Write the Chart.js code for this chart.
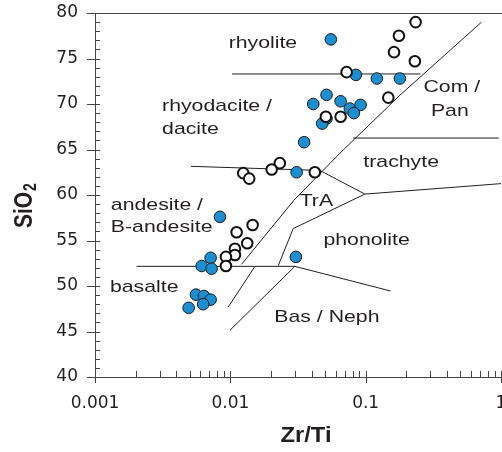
<!DOCTYPE html>
<html>
<head>
<meta charset="utf-8">
<script src="https://cdn.jsdelivr.net/npm/chart.js@4.4.1/dist/chart.umd.min.js"></script>
<style>
  html, body { margin: 0; padding: 0; background: #fff; }
</style>
</head>
<body>
<canvas id="chart" width="502" height="452"></canvas>
<script>
// samples, filled blue
const blueZrTi = [0.0553, 0.0846, 0.121, 0.179, 0.0410, 0.0514, 0.0653, 0.0764, 0.0917, 0.0818, 0.0514, 0.0477,
                  0.0351, 0.0309, 0.00838, 0.00715, 0.00614, 0.00727, 0.00557, 0.00638, 0.00715, 0.00630, 0.00492, 0.0305];
const blueSiO2 = [77.1, 73.2, 72.8, 72.8, 70.0, 71.0, 70.3, 69.5, 69.9, 69.0, 68.4, 67.85,
                  65.8, 62.5, 57.6, 53.1, 52.2, 51.9, 49.05, 48.9, 48.5, 48.0, 47.6, 53.2];
// samples, open circles
const openZrTi = [0.234, 0.176, 0.162, 0.231, 0.0723, 0.147, 0.0508, 0.0653, 0.0232, 0.0202, 0.0421, 0.01246,
                  0.01379, 0.01461, 0.01113, 0.01333, 0.01081, 0.01081, 0.00928, 0.00928];
const openSiO2 = [79.0, 77.5, 75.7, 74.7, 73.5, 70.7, 68.6, 68.6, 63.5, 62.8, 62.5, 62.4,
                  61.8, 56.7, 55.9, 54.7, 54.1, 53.4, 53.2, 52.2];

const xTicks = [0.001, 0.01, 0.1, 1];
const yTicks = [40, 45, 50, 55, 60, 65, 70, 75, 80];

// field boundaries, [Zr/Ti, SiO2]
const rhyoliteLine = [[0.0103, 73.3], [0.254, 73.3]];
const daciteLine = [[0.00512, 63.15], [0.0459, 62.7], [0.0987, 60.1], [1.0, 61.25]];
const comPanLine = [[0.718, 79.0], [0.179, 70.96], [0.0644, 64.58], [0.0295, 59.42], [0.0121, 52.38]];
const trachyteLine = [[0.0809, 66.26], [0.963, 66.26]];
const phonoliteTop = [[0.0987, 60.1], [0.02915, 56.31], [0.02258, 52.22]];
const basaltLine = [[0.00203, 52.16], [0.030, 52.16]];
const nephLine = [[0.030, 52.16], [0.1528, 49.45]];
const basNephLeft = [[0.030, 52.16], [0.00993, 45.13]];
const alkBasLine = [[0.0152, 52.16], [0.00965, 47.69]];

// field names and where they sit
const fieldText = ['rhyolite', 'rhyodacite /', 'dacite', 'andesite /', 'B-andesite', 'basalte',
                   'Com /', 'Pan', 'trachyte', 'TrA', 'phonolite', 'Bas / Neph'];
const fieldZrTi = [0.0174, 0.00313, 0.00313, 0.00131, 0.00131, 0.00129, 0.4332, 0.4188, 0.1829, 0.04324, 0.1016, 0.0517];
const fieldSiO2 = [76.67, 69.75, 67.22, 58.87, 56.45, 49.86, 71.84, 69.19, 63.54, 59.36, 55.02, 46.51];
const fieldAlign = ['center', 'left', 'left', 'left', 'left', 'left', 'center', 'center', 'center', 'center', 'center', 'center'];

const toXY = (xs, ys) => xs.map((x, i) => ({ x: x, y: ys[i] }));
const toPts = arr => arr.map(p => ({ x: p[0], y: p[1] }));

const ink = '#231f20';
const lines = [rhyoliteLine, daciteLine, comPanLine, trachyteLine, phonoliteTop, basaltLine, nephLine, basNephLeft, alkBasLine];

const datasets = [
  { data: toXY(openZrTi, openSiO2), backgroundColor: '#fff', borderColor: '#111', borderWidth: 2, pointRadius: 5.3, order: 0 },
  { data: toXY(blueZrTi, blueSiO2), backgroundColor: '#1b8fd2', borderColor: '#1a1a1a', borderWidth: 1, pointRadius: 5.8, order: 1 }
];
lines.forEach(l => datasets.push({
  data: toPts(l), showLine: true, pointRadius: 0, borderColor: ink, borderWidth: 1, fill: false, order: 5
}));

function wideText(ctx, txt, x, y, sx, align) {
  ctx.save();
  ctx.translate(x, y);
  ctx.scale(sx, 1);
  ctx.textAlign = align;
  ctx.fillText(txt, 0, 0);
  ctx.restore();
}

// no extra room for half labels at the ends of the axes
function noPad(s) {
  s.paddingTop = 0; s.paddingBottom = 0; s.paddingLeft = 0; s.paddingRight = 0;
}

// the x axis runs to the right edge, the "1" label gets cut like in the original
const stretchRight = {
  id: 'stretchRight',
  afterLayout(chart) {
    const xs = chart.scales.x, a = chart.chartArea;
    const right = chart.width - 1;
    xs.right = right;
    xs.width = right - xs.left;
    a.right = right;
    a.width = right - a.left;
    xs.configure();
  }
};

const decor = {
  id: 'decor',
  afterDraw(chart) {
    const ctx = chart.ctx, xs = chart.scales.x, ys = chart.scales.y, a = chart.chartArea;
    ctx.save();
    ctx.strokeStyle = '#444';
    ctx.lineWidth = 1;
    ctx.beginPath();
    // top frame line
    ctx.moveTo(87, a.top + 0.5); ctx.lineTo(chart.width, a.top + 0.5);
    // y ticks
    for (let v = ys.min; v <= ys.max; v++) {
      const py = Math.round(ys.getPixelForValue(v)) + 0.5;
      const major = v % 5 === 0;
      ctx.moveTo(major ? a.left - 8 : a.left, py); ctx.lineTo(a.left + 5, py);
    }
    // x ticks
    xTicks.forEach(d => {
      for (let k = 1; k <= 9; k++) {
        const v = d * k;
        if (v > xs.max) break;
        const px = Math.round(xs.getPixelForValue(v)) + 0.5;
        ctx.moveTo(px, a.bottom - 6); ctx.lineTo(px, k === 1 ? a.bottom + 6 : a.bottom);
      }
    });
    ctx.stroke();

    // field names
    ctx.fillStyle = ink;
    ctx.textBaseline = 'middle';
    ctx.font = '17px "Liberation Sans", Arial, sans-serif';
    fieldText.forEach((t, i) => {
      wideText(ctx, t, xs.getPixelForValue(fieldZrTi[i]), ys.getPixelForValue(fieldSiO2[i]), 1.25, fieldAlign[i]);
    });

    // axis titles
    ctx.font = 'bold 22px "Liberation Sans", Arial, sans-serif';
    wideText(ctx, 'Zr/Ti', (a.left + a.right) / 2 + 8, 436, 1.08, 'center');

    ctx.save();
    ctx.translate(25, 205);
    ctx.rotate(-Math.PI / 2);
    ctx.scale(1, 1.25);
    ctx.textAlign = 'left';
    ctx.font = 'bold 21px "Liberation Sans", Arial, sans-serif';
    const w1 = ctx.measureText('SiO').width;
    const w2 = 10;
    ctx.fillText('SiO', -(w1 + w2) / 2, 0);
    ctx.font = 'bold 14px "Liberation Sans", Arial, sans-serif';
    ctx.fillText('2', -(w1 + w2) / 2 + w1 + 1, 5);
    ctx.restore();
    ctx.restore();
  }
};

new Chart(document.getElementById('chart'), {
  type: 'scatter',
  data: { datasets: datasets },
  options: {
    responsive: false,
    animation: false,
    layout: { padding: { top: 13, right: 1, left: 0, bottom: 0 } },
    plugins: { legend: { display: false }, tooltip: { enabled: false } },
    scales: {
      x: {
        type: 'logarithmic', min: 0.001, max: 1,
        afterBuildTicks: s => { s.ticks = xTicks.map(v => ({ value: v })); },
        afterFit: s => { s.height = 75; noPad(s); },
        grid: { display: false, drawTicks: false },
        border: { display: true, color: '#444', width: 1 },
        ticks: { font: { family: 'DejaVu Sans', size: 17 }, color: ink, padding: 16, maxRotation: 0, autoSkip: false,
                 callback: v => String(v) }
      },
      y: {
        min: 40, max: 80,
        afterBuildTicks: s => { s.ticks = yTicks.map(v => ({ value: v })); },
        afterFit: s => { s.width = 95; noPad(s); },
        grid: { display: false, drawTicks: false },
        border: { display: true, color: '#444', width: 1 },
        ticks: { font: { family: 'DejaVu Sans', size: 17 }, color: ink, padding: 17 }
      }
    }
  },
  plugins: [stretchRight, decor]
});
</script>
</body>
</html>
